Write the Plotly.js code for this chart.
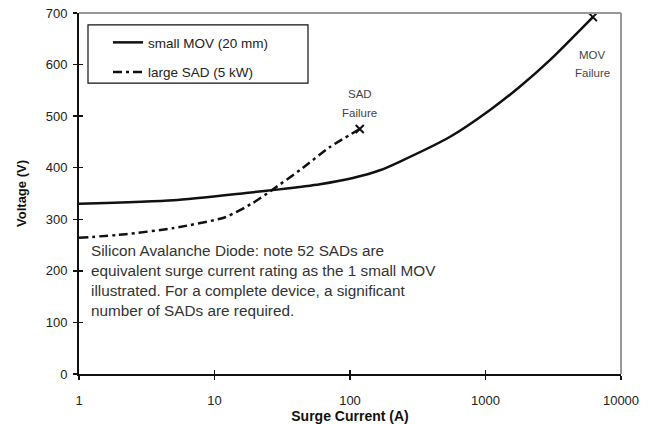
<!DOCTYPE html>
<html><head><meta charset="utf-8">
<script src="https://cdn.plot.ly/plotly-3.0.1.min.js"></script>
<style>html,body{margin:0;padding:0;background:#fff}</style>
</head><body><div id="chart" style="width:655px;height:424px"></div>
<script>
var movCurrent = [1, 5, 17, 30, 60, 105, 166, 234, 548, 1080, 1790, 3000, 6200];
var movVoltage = [330, 337, 351, 358, 368, 380, 395, 412, 460, 512, 557, 609, 692];
var sadCurrent = [1, 2.2, 5, 12, 19, 26, 43, 71, 118];
var sadVoltage = [264, 271, 283, 304, 331, 355, 396, 440, 475];
var xTicks = [1, 10, 100, 1000, 10000];
var yTicks = [0, 100, 200, 300, 400, 500, 600, 700];

var FAM = 'Liberation Sans, Arial, sans-serif';
var traces = [
  {x: movCurrent, y: movVoltage, mode: 'lines', name: 'small MOV (20 mm)', legendgroup: 'a',
   line: {color: '#111', width: 2.5, shape: 'spline', smoothing: 0.6}},
  {x: sadCurrent, y: sadVoltage, mode: 'lines', name: 'large SAD (5 kW)', legendgroup: 'b',
   line: {color: '#111', width: 2.5, dash: '9px,4px,3px,4px', shape: 'spline', smoothing: 0.6}},
  {x: [movCurrent[movCurrent.length-1]], y: [movVoltage[movVoltage.length-1]], mode: 'markers',
   showlegend: false, marker: {symbol: 'x-thin', size: 8, line: {color: '#111', width: 2}}},
  {x: [sadCurrent[sadCurrent.length-1]], y: [sadVoltage[sadVoltage.length-1]], mode: 'markers',
   showlegend: false, marker: {symbol: 'x-thin', size: 8, line: {color: '#111', width: 2}}},
  {x: [1], y: [0], xaxis: 'x2', yaxis: 'y2', mode: 'markers', showlegend: false,
   marker: {opacity: 0}, hoverinfo: 'skip'}
];
var layout = {
  width: 655, height: 424,
  margin: {l: 79, r: 34, t: 13, b: 50},
  paper_bgcolor: '#fff', plot_bgcolor: '#fff',
  font: {family: FAM, size: 13, color: '#222'},
  showlegend: true,
  legend: {x: 0.0535, y: 0.961, xanchor: 'left', yanchor: 'top',
    borderwidth: 0, bgcolor: 'rgba(0,0,0,0)',
    font: {family: FAM, size: 13.5, color: '#222'},
    itemwidth: 30, tracegroupgap: 9},
  xaxis: {type: 'log', range: [0, 4], tickvals: xTicks, ticktext: xTicks.map(String),
    showgrid: false, zeroline: false, showline: true, linecolor: '#111', linewidth: 2,
    ticks: 'outside', ticklen: 4, tickwidth: 1.5, tickcolor: '#111', ticklabelstandoff: 9,
    title: {text: '<b>Surge Current (A)</b>', font: {size: 14, color: '#111'}, standoff: 1},
    tickfont: {size: 13, color: '#222'}},
  yaxis: {range: [0, 700], tickvals: yTicks,
    showgrid: false, zeroline: false, showline: true, linecolor: '#111', linewidth: 2,
    ticks: 'outside', ticklen: 4, tickwidth: 1.5, tickcolor: '#111', ticklabelstandoff: 3,
    title: {text: '<b>Voltage (V)</b>', font: {size: 13, color: '#111'}, standoff: 16},
    tickfont: {size: 13, color: '#222'}},
  xaxis2: {type: 'log', range: [0, 4], tickvals: xTicks, overlaying: 'x', anchor: 'y2',
    showgrid: false, zeroline: false, showline: false, showticklabels: false,
    ticks: 'inside', ticklen: 4, tickwidth: 1.5, tickcolor: '#111'},
  yaxis2: {range: [0, 700], tickvals: yTicks, overlaying: 'y', anchor: 'x2',
    showgrid: false, zeroline: false, showline: false, showticklabels: false,
    ticks: 'inside', ticklen: 4, tickwidth: 1.5, tickcolor: '#111'},
  shapes: [
    {type: 'line', xref: 'paper', yref: 'paper', x0: 0, x1: 1, y0: 1, y1: 1, line: {color: '#999', width: 2}},
    {type: 'line', xref: 'paper', yref: 'paper', x0: 1, x1: 1, y0: 0, y1: 1, line: {color: '#999', width: 2}},
    {type: 'rect', xref: 'paper', yref: 'paper', x0: 0.0166, x1: 0.4225, y0: 0.806, y1: 0.967,
     line: {color: '#111', width: 1.2}, fillcolor: 'rgba(0,0,0,0)'}
  ],
  annotations: [
    {x: Math.log10(118), y: 542, xref: 'x', yref: 'y', text: 'SAD', showarrow: false,
     font: {size: 11.5, color: '#444'}},
    {x: Math.log10(118), y: 507, xref: 'x', yref: 'y', text: 'Failure', showarrow: false,
     font: {size: 11.5, color: '#444'}},
    {x: Math.log10(6200), y: 619, xref: 'x', yref: 'y', text: 'MOV', showarrow: false,
     font: {size: 11.5, color: '#444'}},
    {x: Math.log10(6200), y: 584, xref: 'x', yref: 'y', text: 'Failure', showarrow: false,
     font: {size: 11.5, color: '#444'}},
    {x: 0.0185, y: 0.37, xref: 'paper', yref: 'paper', xanchor: 'left', yanchor: 'top', align: 'left',
     showarrow: false,
     text: 'Silicon Avalanche Diode: note 52 SADs are<br>equivalent surge current rating as the 1 small MOV<br>illustrated. For a complete device, a significant<br>number of SADs are required.',
     font: {size: 15.3, color: '#333'}}
  ]
};
Plotly.newPlot('chart', traces, layout, {displayModeBar: false, staticPlot: true});
</script></body></html>
